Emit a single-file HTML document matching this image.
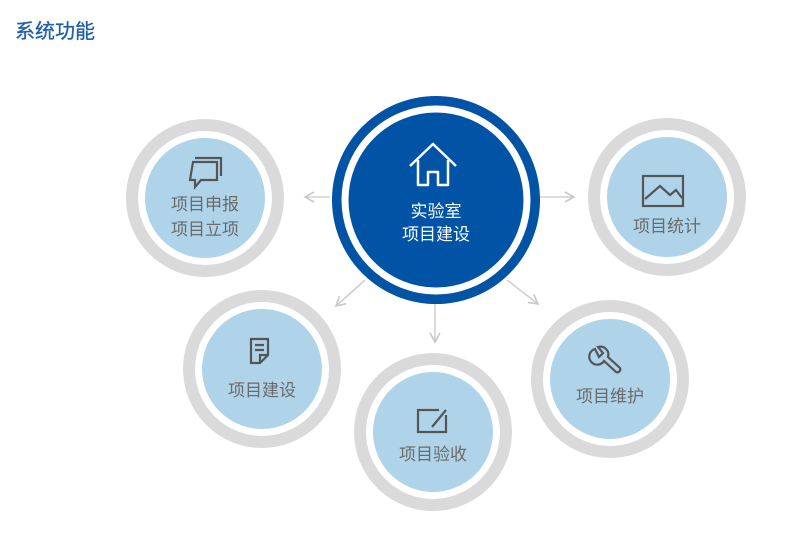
<!DOCTYPE html>
<html><head><meta charset="utf-8"><style>
html,body{margin:0;padding:0;background:#fff;}
body{width:800px;height:542px;overflow:hidden;font-family:"Liberation Sans","Noto Sans CJK SC",sans-serif;}
</style></head><body>
<svg width="800" height="542" viewBox="0 0 800 542" xmlns="http://www.w3.org/2000/svg" font-family="Liberation Sans, Noto Sans CJK SC, sans-serif">
<text x="15" y="38" font-size="20" fill="#1e5fae" stroke="#1e5fae" stroke-width="0.3">系统功能</text>
<defs><marker id="a" markerWidth="12" markerHeight="12" refX="10" refY="6" orient="auto" markerUnits="userSpaceOnUse"><path d="M1,1 L10,6 L1,11" fill="none" stroke="#c8c8c8" stroke-width="1.6"/></marker></defs>
<g stroke="#d0d0d0" stroke-width="1.6" fill="none">
<line x1="330" y1="197" x2="305" y2="197" marker-end="url(#a)"/>
<line x1="540" y1="197" x2="574" y2="197" marker-end="url(#a)"/>
<line x1="365" y1="280" x2="336" y2="306" marker-end="url(#a)"/>
<line x1="435" y1="303" x2="435" y2="342" marker-end="url(#a)"/>
<line x1="507" y1="280" x2="538" y2="304" marker-end="url(#a)"/>
</g>
<g fill="#afd4ea" stroke="#dadada" stroke-width="12">
<circle cx="205" cy="198" r="73"/>
<circle cx="667" cy="197" r="73"/>
<circle cx="262" cy="369" r="73"/>
<circle cx="433" cy="432" r="73"/>
<circle cx="610" cy="379" r="73"/>
</g>
<g fill="none" stroke="#fff" stroke-width="7">
<circle cx="205" cy="198" r="63.5"/>
<circle cx="667" cy="197" r="63.5"/>
<circle cx="262" cy="369" r="63.5"/>
<circle cx="433" cy="432" r="63.5"/>
<circle cx="610" cy="379" r="63.5"/>
</g>
<circle cx="436" cy="200" r="98" fill="#0053a5" stroke="#0053a5" stroke-width="12"/>
<circle cx="436" cy="200" r="91" fill="none" stroke="#fff" stroke-width="7"/>
<path d="M410,166 L433,144 L456,166 M418,160 V185 H428 V172 H438 V185 H448 V160" fill="none" stroke="#fff" stroke-width="2.5" stroke-linejoin="round"/>
<g font-size="17" fill="#fff" text-anchor="middle"><text x="436" y="217">实验室</text><text x="436" y="240">项目建设</text></g>
<g fill="none" stroke="#555" stroke-width="2.2">
<path d="M193,162 H217 V180 H201 L195,187 V180 H190 Z M195,158 H221 V176"/>
<rect x="643" y="176" width="40" height="30"/><path d="M645,199 L660,186 L670,195 L676,190 L682,198"/>
<path d="M251,339 H268 V355 L260,363 H251 Z M260,363 V355 H268 M255,345 H264 M255,350 H264"/>
<path d="M439,410 H418 V432 H446 V415 M432,427 L446,410"/>
<path d="M595,349 a8,8 0 1 0 9,12 L616,372 a3,3 0 0 0 4,-4 L608,357 a8,8 0 0 0 -10,-10 L603,353 L599,357 Z"/>
</g>
<g font-size="17" fill="#6a6a6a" text-anchor="middle">
<text x="205" y="210">项目申报</text><text x="205" y="235">项目立项</text>
<text x="667" y="232">项目统计</text>
<text x="262" y="396">项目建设</text>
<text x="433" y="460">项目验收</text>
<text x="610" y="402">项目维护</text>
</g>
</svg>
</body></html>
